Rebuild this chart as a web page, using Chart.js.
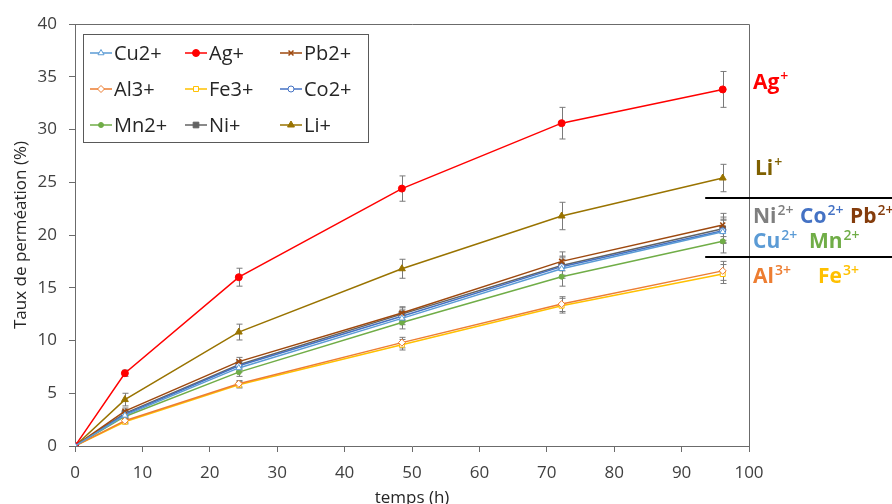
<!DOCTYPE html>
<html>
<head>
<meta charset="utf-8">
<script src="https://cdn.jsdelivr.net/npm/chart.js@4.4.1/dist/chart.umd.min.js"></script>
<style>
    html, body { margin: 0; padding: 0; background: #fff; }
    #wrap { width: 892px; height: 504px; }
</style>
</head>
<body>
<div id="wrap"><canvas id="myChart" width="892" height="504"></canvas></div>
<script>
// temps (h)
const hours = [0, 7.4, 24.3, 48.5, 72.2, 96.1]

// taux de perméation (%)
const cu = [0, 2.9, 7.4, 12.1, 16.8, 20.3]
const ag = [0, 6.9, 16.0, 24.4, 30.6, 33.8]
const pb = [0, 3.3, 8.0, 12.6, 17.5, 20.95]
const al = [0, 2.4, 5.9, 9.8, 13.45, 16.6]
const fe = [0, 2.3, 5.8, 9.6, 13.3, 16.3]
const co = [0, 3.0, 7.6, 12.3, 17.0, 20.4]
const mn = [0, 2.8, 7.0, 11.7, 16.05, 19.4]
const ni = [0, 3.1, 7.7, 12.5, 17.1, 20.6]
const li = [0, 4.4, 10.8, 16.8, 21.8, 25.4]

// écarts (barres d'erreur)
const errAg = [0, 0.3, 0.85, 1.2, 1.5, 1.7]
const errLi = [0, 0.6, 0.75, 0.9, 1.3, 1.3]
const errMid = [0, 0.3, 0.4, 0.6, 0.9, 1.1]
const errLow = [0, 0.2, 0.3, 0.5, 0.7, 0.9]

const xTicks = [0, 10, 20, 30, 40, 50, 60, 70, 80, 90, 100]
const yTicks = [0, 5, 10, 15, 20, 25, 30, 35, 40]

const FONT = "'Open Sans', 'Noto Sans', sans-serif"
Chart.defaults.font.family = FONT
Chart.defaults.color = '#404040'

const toPoints = (values) => values.map((v, i) => ({ x: hours[i], y: v }))

const makeSet = (label, values, err, color, style, opts) => Object.assign({
    label: label,
    data: toPoints(values),
    err: err,
    borderColor: color,
    backgroundColor: color,
    pointBorderColor: color,
    pointBackgroundColor: color,
    pointStyle: style,
    pointRadius: 3,
    pointBorderWidth: 1,
    borderWidth: 1.5,
    tension: 0
}, opts || {})

const datasets = [
    makeSet('Cu2+', cu, errMid, '#5B9BD5', 'triangle', { pointBackgroundColor: '#fff', pointRadius: 3.5 }),
    makeSet('Ag+', ag, errAg, '#FF0000', 'circle', { pointRadius: 3.5 }),
    makeSet('Pb2+', pb, errMid, '#9E480E', 'crossRot', { pointRadius: 3.5, pointBorderWidth: 1.5 }),
    makeSet('Al3+', al, errLow, '#ED7D31', 'rectRot', { pointBackgroundColor: '#fff', pointRadius: 3.5 }),
    makeSet('Fe3+', fe, errLow, '#FFC000', 'rect', { pointBackgroundColor: '#fff', pointRadius: 3.5 }),
    makeSet('Co2+', co, errMid, '#4472C4', 'circle', { pointBackgroundColor: '#fff', pointRadius: 3 }),
    makeSet('Mn2+', mn, errMid, '#70AD47', 'circle', { pointRadius: 2.5 }),
    makeSet('Ni+', ni, errMid, '#636363', 'rect', { pointRadius: 4 }),
    makeSet('Li+', li, errLi, '#997300', 'triangle', { pointRadius: 4 })
]

const errorBars = {
    id: 'errorBars',
    beforeDatasetsDraw(chart) {
        const ctx = chart.ctx
        const xs = chart.scales.x
        const ys = chart.scales.y
        ctx.save()
        ctx.strokeStyle = '#7a7a7a'
        ctx.lineWidth = 1
        chart.data.datasets.forEach((ds) => {
            ds.data.forEach((p, j) => {
                const e = ds.err[j]
                if (!e) return
                const x = Math.round(xs.getPixelForValue(p.x)) + 0.5
                const y1 = ys.getPixelForValue(p.y + e)
                const y2 = ys.getPixelForValue(p.y - e)
                ctx.beginPath()
                ctx.moveTo(x, y1); ctx.lineTo(x, y2)
                ctx.moveTo(x - 3, y1); ctx.lineTo(x + 3, y1)
                ctx.moveTo(x - 3, y2); ctx.lineTo(x + 3, y2)
                ctx.stroke()
            })
        })
        ctx.restore()
    }
}

const frame = {
    id: 'frame',
    afterDraw(chart) {
        const { ctx, chartArea: a } = chart
        ctx.save()
        ctx.strokeStyle = '#6b6b6b'
        ctx.lineWidth = 1
        ctx.beginPath()
        ctx.moveTo(a.left, a.top + 0.5)
        ctx.lineTo(a.right + 0.5, a.top + 0.5)
        ctx.lineTo(a.right + 0.5, a.bottom)
        ctx.stroke()
        ctx.restore()
    }
}

// légende dessinée dans la zone du graphique, 3 colonnes
const boxLegend = {
    id: 'boxLegend',
    afterDraw(chart) {
        const { ctx, chartArea: a } = chart
        const bx = a.left + 8, by = a.top + 10, bw = 285, bh = 108
        ctx.save()
        ctx.fillStyle = '#fff'
        ctx.fillRect(bx, by, bw, bh)
        ctx.strokeStyle = '#595959'
        ctx.lineWidth = 1
        ctx.strokeRect(bx + 0.5, by + 0.5, bw, bh)
        ctx.font = '20px ' + FONT
        ctx.textBaseline = 'middle'
        chart.data.datasets.forEach((ds, i) => {
            const col = i % 3, row = Math.floor(i / 3)
            const x = bx + 7 + col * 95
            const y = by + 19 + row * 36
            ctx.strokeStyle = ds.borderColor
            ctx.lineWidth = 1.5
            ctx.beginPath()
            ctx.moveTo(x, y); ctx.lineTo(x + 22, y)
            ctx.stroke()
            ctx.fillStyle = ds.pointBackgroundColor
            ctx.strokeStyle = ds.pointBorderColor
            ctx.lineWidth = ds.pointBorderWidth
            Chart.helpers.drawPoint(ctx, {
                pointStyle: ds.pointStyle,
                radius: ds.pointRadius,
                borderWidth: ds.pointBorderWidth,
                rotation: 0
            }, x + 11, y)
            ctx.fillStyle = '#262626'
            ctx.fillText(ds.label, x + 24, y + 1)
        })
        ctx.restore()
    }
}

// étiquettes à droite (ion + charge en exposant)
const sideLabels = {
    id: 'sideLabels',
    afterDraw(chart) {
        const { ctx, chartArea: a } = chart
        const xs = chart.scales.x
        const ys = chart.scales.y
        const groups = [
            { y: 33.85, items: [['Ag', '+', '#FF0000', 4]] },
            { y: 25.7, items: [['Li', '+', '#7F6000', 6]] },
            { y: 21.1, items: [['Ni', '2+', '#7F7F7F', 4], ['Co', '2+', '#4472C4', 51], ['Pb', '2+', '#843C0C', 101]] },
            { y: 18.75, items: [['Cu', '2+', '#5B9BD5', 4], ['Mn', '2+', '#70AD47', 60]] },
            { y: 15.45, items: [['Al', '3+', '#ED7D31', 4], ['Fe', '3+', '#FFC000', 69]] }
        ]
        ctx.save()
        ctx.textBaseline = 'alphabetic'
        groups.forEach((g) => {
            const y = ys.getPixelForValue(g.y)
            g.items.forEach(([base, sup, color, dx]) => {
                const x = a.right + dx
                ctx.fillStyle = color
                ctx.font = 'bold 21px ' + FONT
                ctx.fillText(base, x, y)
                const w = ctx.measureText(base).width
                ctx.font = '600 14px ' + FONT
                ctx.fillText(sup, x + w + 1, y - 8)
            })
        })
        ctx.strokeStyle = '#000'
        ctx.lineWidth = 2
        ;[23.48, 17.94].forEach((v) => {
            const y = Math.round(ys.getPixelForValue(v))
            ctx.beginPath()
            ctx.moveTo(xs.getPixelForValue(93.5), y)
            ctx.lineTo(chart.width, y)
            ctx.stroke()
        })
        ctx.restore()
    }
}

new Chart('myChart', {
    type: 'line',
    data: { datasets: datasets },
    options: {
        responsive: false,
        animation: false,
        devicePixelRatio: 1,
        layout: { padding: { top: 24, right: 143, left: 0, bottom: 0 } },
        plugins: {
            legend: { display: false },
            tooltip: { enabled: false }
        },
        scales: {
            x: {
                type: 'linear',
                min: 0,
                max: 100,
                afterFit: (s) => { s.height = 58 },
                afterBuildTicks: (s) => { s.ticks = xTicks.map((v) => ({ value: v })) },
                ticks: { font: { size: 17 }, padding: 11, maxRotation: 0 },
                grid: { drawOnChartArea: false, tickLength: 6, color: '#6b6b6b' },
                border: { color: '#6b6b6b' },
                title: { display: true, text: 'temps (h)', font: { size: 17 }, padding: { top: 0, bottom: -4 }, color: '#262626' }
            },
            y: {
                min: 0,
                max: 40,
                afterFit: (s) => { s.width = 75 },
                afterBuildTicks: (s) => { s.ticks = yTicks.map((v) => ({ value: v })) },
                ticks: { font: { size: 17 }, padding: 12 },
                grid: { drawOnChartArea: false, tickLength: 6, color: '#6b6b6b' },
                border: { color: '#6b6b6b' },
                title: { display: true, text: 'Taux de perméation (%)', font: { size: 17 }, padding: { top: 11, bottom: 0 }, color: '#262626' }
            }
        }
    },
    plugins: [errorBars, frame, boxLegend, sideLabels]
})
</script>
</body>
</html>
